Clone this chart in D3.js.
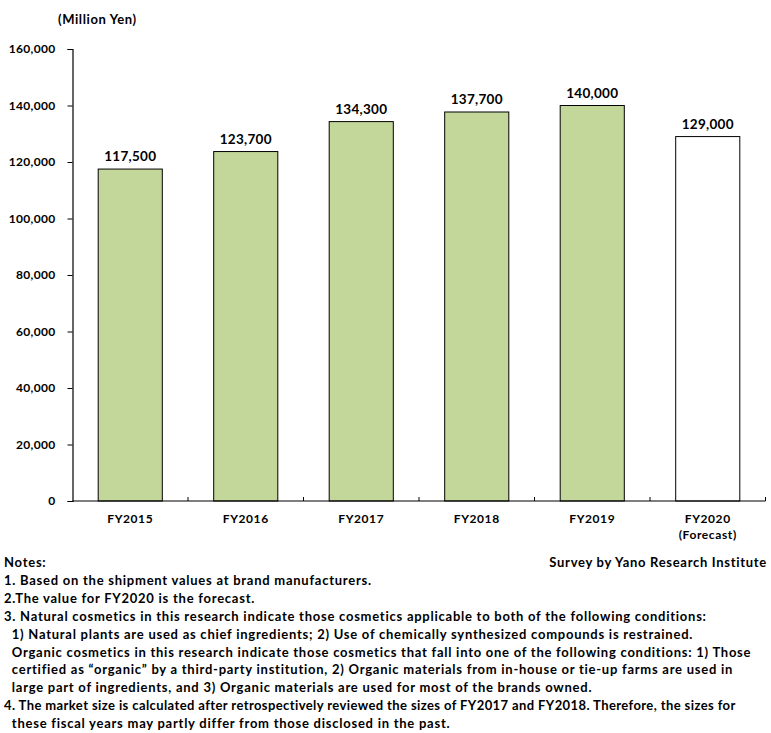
<!DOCTYPE html>
<html>
<head>
<meta charset="utf-8">
<script src="https://cdn.jsdelivr.net/npm/d3@7"></script>
<style>
  body { margin: 0; background: #fff; }
  svg text { font-family: "Century Gothic", "Lato", "Open Sans", sans-serif; font-weight: bold; fill: #000; }
</style>
</head>
<body>
<script>
/* chart data */
var categories = ["FY2015", "FY2016", "FY2017", "FY2018", "FY2019", "FY2020"];
var subLabels = ["", "", "", "", "", "(Forecast)"];
var values = [117500, 123700, 134300, 137700, 140000, 129000];
var forecast = [false, false, false, false, false, true];
var yTicks = [0, 20000, 40000, 60000, 80000, 100000, 120000, 140000, 160000];
var unitLabel = "(Million Yen)";
var sourceLabel = "Survey by Yano Research Institute";
var notes = [
  "Notes:",
  "1. Based on the shipment values at brand manufacturers.",
  "2.The value for FY2020 is the forecast.",
  "3. Natural cosmetics in this research indicate those cosmetics applicable to both of the following conditions:",
  "  1) Natural plants are used as chief ingredients; 2) Use of chemically synthesized compounds is restrained.",
  "  Organic cosmetics in this research indicate those cosmetics that fall into one of the following conditions: 1) Those",
  "  certified as \u201corganic\u201d by a third-party institution, 2) Organic materials from in-house or tie-up farms are used in",
  "  large part of ingredients, and 3) Organic materials are used for most of the brands owned.",
  "4. The market size is calculated after retrospectively reviewed the sizes of FY2017 and FY2018. Therefore, the sizes for",
  "  these fiscal years may partly differ from those disclosed in the past."
];

var W = 771, H = 733;
var plotLeft = 72.5, plotRight = 765.5, plotTop = 49, plotBottom = 501;
var notesMaxWidth = 750;

var svg = d3.select("body").append("svg")
    .attr("width", W)
    .attr("height", H);

var x = d3.scaleBand()
    .domain(categories)
    .range([plotLeft, plotRight])
    .paddingInner(0.445)
    .paddingOuter(0.2225);

var y = d3.scaleLinear()
    .domain([0, 160000])
    .range([plotBottom, plotTop]);

/* y axis */
var yAxis = svg.append("g")
    .attr("transform", "translate(" + plotLeft + ",0)")
    .call(d3.axisLeft(y).tickValues(yTicks).tickSize(5).tickPadding(12)
        .tickFormat(d3.format(",")));
yAxis.attr("font-family", null).attr("font-size", null);
yAxis.select(".domain").attr("stroke", "#000").attr("stroke-width", 1.2);
yAxis.selectAll(".tick line").attr("stroke", "#000");
yAxis.selectAll(".tick text")
    .style("font-size", "12px")
    .style("letter-spacing", "0.3px")
    .attr("fill", "#000");

/* bars */
svg.selectAll("rect.bar")
    .data(values)
    .enter().append("rect")
    .attr("class", "bar")
    .attr("x", function(d, i) { return x(categories[i]); })
    .attr("y", function(d) { return y(d); })
    .attr("width", x.bandwidth())
    .attr("height", function(d) { return plotBottom - y(d); })
    .attr("fill", function(d, i) { return forecast[i] ? "#ffffff" : "#c4d79b"; })
    .attr("stroke", "#000")
    .attr("stroke-width", 1);

/* value labels */
svg.selectAll("text.val")
    .data(values)
    .enter().append("text")
    .attr("class", "val")
    .attr("x", function(d, i) { return x(categories[i]) + x.bandwidth() / 2; })
    .attr("y", function(d) { return y(d) - 8; })
    .attr("text-anchor", "middle")
    .style("font-size", "13.5px")
    .style("letter-spacing", "0.3px")
    .text(function(d) { return d3.format(",")(d); });

/* x axis line + boundary ticks */
svg.append("line")
    .attr("x1", plotLeft).attr("x2", plotRight)
    .attr("y1", plotBottom).attr("y2", plotBottom)
    .attr("stroke", "#000").attr("stroke-width", 1.2);

svg.selectAll("line.xtick")
    .data(categories)
    .enter().append("line")
    .attr("class", "xtick")
    .attr("x1", function(d) { return x(d) + x.bandwidth() + (x.step() - x.bandwidth()) / 2; })
    .attr("x2", function(d) { return x(d) + x.bandwidth() + (x.step() - x.bandwidth()) / 2; })
    .attr("y1", plotBottom).attr("y2", plotBottom - 4)
    .attr("stroke", "#000");

/* category labels */
var cat = svg.selectAll("text.cat")
    .data(categories)
    .enter().append("text")
    .attr("class", "cat")
    .attr("text-anchor", "middle")
    .style("font-size", "12px")
    .style("letter-spacing", "0.6px")
    .attr("x", function(d) { return x(d) + x.bandwidth() / 2; })
    .attr("y", plotBottom + 22);
cat.append("tspan").text(function(d) { return d; });
cat.append("tspan")
    .attr("x", function(d) { return x(d) + x.bandwidth() / 2; })
    .attr("dy", 16)
    .text(function(d, i) { return subLabels[i]; });

/* unit label */
svg.append("text")
    .attr("x", 58).attr("y", 24)
    .style("font-size", "13px")
    .style("letter-spacing", "0.6px")
    .text(unitLabel);

/* source */
svg.append("text")
    .attr("x", 767).attr("y", 567)
    .attr("text-anchor", "end")
    .style("font-size", "13px")
    .style("letter-spacing", "0.7px")
    .text(sourceLabel);

/* notes */
svg.selectAll("text.note")
    .data(notes)
    .enter().append("text")
    .attr("class", "note")
    .attr("x", 4)
    .attr("y", function(d, i) { return 567 + i * 17.9; })
    .attr("xml:space", "preserve")
    .style("white-space", "pre")
    .style("font-size", "13px")
    .style("letter-spacing", "0.75px")
    .text(function(d) { return d; })
    .each(function() {
        // squeeze any line that runs wider than the notes area
        if (this.getComputedTextLength() > notesMaxWidth) {
            d3.select(this).style("letter-spacing", "0.4px");
            if (this.getComputedTextLength() > notesMaxWidth) {
                d3.select(this).attr("textLength", notesMaxWidth)
                    .attr("lengthAdjust", "spacingAndGlyphs");
            }
        }
    });
</script>
</body>
</html>
